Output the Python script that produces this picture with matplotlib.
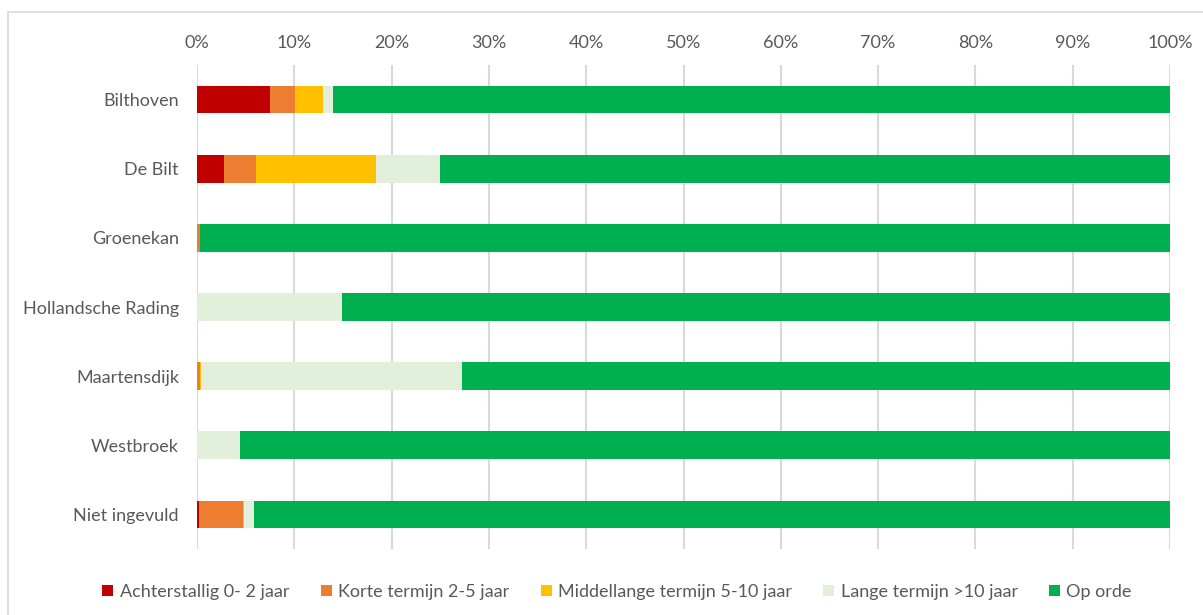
import matplotlib.pyplot as plt
from matplotlib.patches import Rectangle
from matplotlib.ticker import FuncFormatter, MultipleLocator
import numpy as np

# data (percentages)
locaties = ['Bilthoven', 'De Bilt', 'Groenekan', 'Hollandsche Rading',
            'Maartensdijk', 'Westbroek', 'Niet ingevuld']
achterstallig = [7.5, 2.8, 0.0, 0.0, 0.0, 0.0, 0.2]
korte_termijn = [2.6, 3.3, 0.3, 0.0, 0.3, 0.0, 4.5]
middellang = [2.85, 12.3, 0.0, 0.0, 0.15, 0.0, 0.15]
lange_termijn = [1.05, 6.6, 0.0, 14.9, 26.75, 4.4, 1.05]
op_orde = [86.0, 75.0, 99.7, 85.1, 72.8, 95.6, 94.1]

reeksen = ['Achterstallig 0- 2 jaar', 'Korte termijn 2-5 jaar',
           'Middellange termijn 5-10 jaar', 'Lange termijn >10 jaar', 'Op orde']
kleuren = ['#C00000', '#ED7D31', '#FFC000', '#E2EFDA', '#00B050']

plt.rcParams['font.family'] = ['Lato', 'DejaVu Sans']
tekstkleur = '#595959'
gridkleur = '#D9D9D9'
fs = 13

fig = plt.figure(figsize=(12.03, 6.15), dpi=100)
ax = fig.add_axes([197/1203, 1-549/615, (1170-197)/1203, (549-65)/615])

y = np.arange(len(locaties))
links = np.zeros(len(locaties))
for naam, kleur, waarden in zip(reeksen, kleuren,
                                [achterstallig, korte_termijn, middellang, lange_termijn, op_orde]):
    w = np.array(waarden)
    ax.barh(y, w, left=links, height=0.4, color=kleur, label=naam, zorder=3)
    links += w

ax.set_xlim(0, 100)
ax.set_ylim(6.5, -0.5)
ax.set_yticks(y)
ax.set_yticklabels(locaties)
ax.xaxis.set_major_locator(MultipleLocator(10))
ax.xaxis.set_major_formatter(FuncFormatter(lambda v, p: '%d%%' % v))
ax.xaxis.tick_top()
ax.tick_params(axis='x', length=0, pad=10, labelsize=fs, labelcolor=tekstkleur)
ax.tick_params(axis='y', length=0, pad=13, labelsize=fs, labelcolor=tekstkleur)
ax.grid(axis='x', color=gridkleur, linewidth=1.5, zorder=0)
for s in ax.spines.values():
    s.set_visible(False)

# chart area border
fig.patches.append(Rectangle((8/1203, -0.1), 1.2, 1 - 12/615 + 0.1,
                             transform=fig.transFigure, fill=False,
                             edgecolor=gridkleur, linewidth=1.2))

fig.legend(loc='center', bbox_to_anchor=(0.513, 1-592/615), ncol=5, frameon=False,
           fontsize=fs, labelcolor=tekstkleur, handlelength=0.6, handleheight=0.6,
           handletextpad=0.35, columnspacing=1.75)

fig.savefig('out.png', dpi=100)
